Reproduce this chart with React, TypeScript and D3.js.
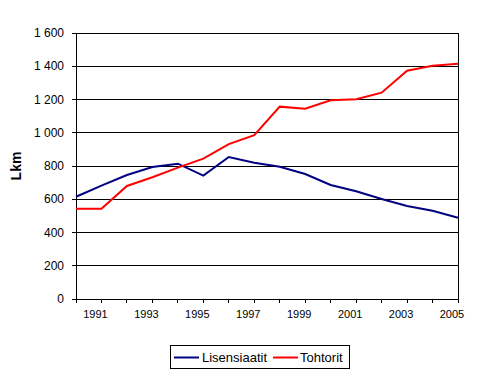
import React from "react";
import * as d3 from "d3";

const years = [1990, 1991, 1992, 1993, 1994, 1995, 1996, 1997, 1998, 1999, 2000, 2001, 2002, 2003, 2004, 2005];
const lisensiaatit = [615, 682, 746, 794, 814, 742, 854, 820, 796, 752, 686, 648, 602, 559, 531, 489];
const tohtorit = [543, 543, 680, 732, 790, 844, 932, 986, 1157, 1145, 1195, 1201, 1241, 1373, 1403, 1415];
const yTicks = [0, 200, 400, 600, 800, 1000, 1200, 1400, 1600];
const xLabels = [1991, 1993, 1995, 1997, 1999, 2001, 2003, 2005];
const seriesNames = ["Lisensiaatit", "Tohtorit"];
const seriesColors = ["#000080", "#FF0000"];

export default function App() {
  const W = 496, H = 378;
  const left = 76, right = 458, top = 33, bottom = 299;
  const x = d3.scaleLinear().domain([years[0], years[years.length - 1]]).range([left, right]);
  const y = d3.scaleLinear().domain([0, 1600]).range([bottom, top]);
  const line = d3.line<number>().x((_, i) => x(years[i])).y((d) => y(d));
  const fmt = (v: number) => {
    const s = String(v);
    return s.length > 3 ? s.slice(0, s.length - 3) + " " + s.slice(-3) : s;
  };
  const font = "'Liberation Sans', Arial, sans-serif";
  const series = [lisensiaatit, tohtorit];
  return (
    <svg width={W} height={H} style={{ position: "absolute", left: 0, top: 0, background: "#fff" }} fontFamily={font}>
      {yTicks.map((t) => (
        <g key={t}>
          <line x1={left} x2={right} y1={y(t)} y2={y(t)} stroke="#000" strokeWidth={1} shapeRendering="crispEdges" />
          <line x1={left - 4} x2={left} y1={y(t)} y2={y(t)} stroke="#000" strokeWidth={1} shapeRendering="crispEdges" />
          <text x={64} y={y(t)} dy="0.35em" textAnchor="end" fontSize={12}>{fmt(t)}</text>
        </g>
      ))}
      <line x1={left} x2={left} y1={top} y2={bottom} stroke="#000" shapeRendering="crispEdges" />
      <line x1={right} x2={right} y1={top} y2={bottom} stroke="#000" shapeRendering="crispEdges" />
      {years.map((yr) => (
        <line key={yr} x1={x(yr)} x2={x(yr)} y1={bottom} y2={bottom + 4} stroke="#000" shapeRendering="crispEdges" />
      ))}
      {xLabels.map((yr) => (
        <text key={yr} x={x(yr) - 6} y={318} textAnchor="middle" fontSize={11}>{yr}</text>
      ))}
      <text transform={`translate(21,${(top + bottom) / 2}) rotate(-90)`} textAnchor="middle" fontSize={14} fontWeight="bold">Lkm</text>
      {series.map((s, k) => (
        <path key={k} d={line(s) || ""} fill="none" stroke={seriesColors[k]} strokeWidth={2} />
      ))}
      <rect x={170.5} y={345.5} width={179} height={23} fill="#fff" stroke="#000" />
      <line x1={174} x2={199} y1={357.5} y2={357.5} stroke={seriesColors[0]} strokeWidth={2} />
      <text x={202} y={362} fontSize={13}>{seriesNames[0]}</text>
      <line x1={273} x2={298} y1={357.5} y2={357.5} stroke={seriesColors[1]} strokeWidth={2} />
      <text x={300} y={362} fontSize={13}>{seriesNames[1]}</text>
    </svg>
  );
}
